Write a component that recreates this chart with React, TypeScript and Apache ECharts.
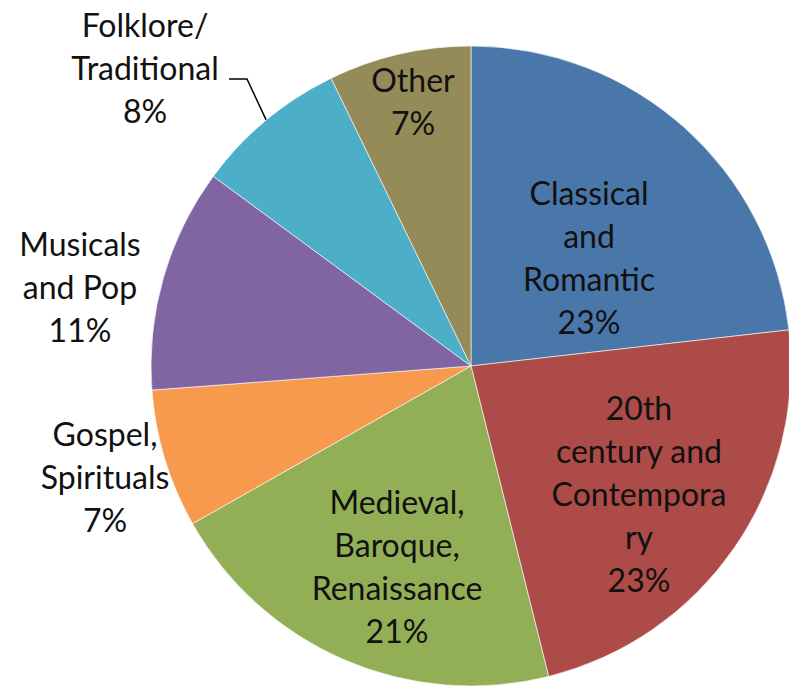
import React, { useEffect, useRef } from "react";
import * as echarts from "echarts";

const categories = [
  "Classical\nand\nRomantic",
  "20th\ncentury and\nContempora\nry",
  "Medieval,\nBaroque,\nRenaissance",
  "Gospel,\nSpirituals",
  "Musicals\nand Pop",
  "Folklore/\nTraditional",
  "Other",
];
const values = [23.2, 22.9, 20.7, 7.0, 11.3, 7.7, 7.2];
const colors = ["#4A77AA", "#AC4B47", "#93AF56", "#F79A4E", "#8165A3", "#4DAEC8", "#958B58"];
// label block centres (layout, px)
const labelPos: [number, number][] = [
  [589, 257],
  [639, 493],
  [397, 566],
  [105, 476],
  [80, 286],
  [145, 67],
  [413, 101],
];

export default function App() {
  const ref = useRef<HTMLDivElement>(null);
  useEffect(() => {
    document.body.style.margin = "0";
    const chart = echarts.init(ref.current!, null, { renderer: "svg" });
    chart.setOption({
      animation: false,
      backgroundColor: "#ffffff",
      series: [
        {
          type: "pie",
          center: [471, 366],
          radius: [0, 320],
          startAngle: 90,
          clockwise: true,
          avoidLabelOverlap: false,
          itemStyle: { borderColor: "#ffffff", borderWidth: 0.6 },
          label: {
            show: true,
            position: "inside",
            fontFamily: "Lato",
            fontSize: 32,
            lineHeight: 43,
            color: "#111111",
            align: "center",
            formatter: (p: any) => `${p.name}\n${Math.round(p.percent)}%`,
          },
          labelLine: { show: false },
          labelLayout: (params: any) => {
            const [x, y] = labelPos[params.dataIndex];
            const res: any = { x, y, align: "center", verticalAlign: "middle" };
            if (params.dataIndex === 5 && params.labelLinePoints) {
              const p0 = params.labelLinePoints[0];
              res.labelLinePoints = [p0, [247, 79], [229, 79]];
            }
            return res;
          },
          data: categories.map((name, i) => {
            const d: any = { name, value: values[i], itemStyle: { color: colors[i] } };
            if (i === 5) {
              d.label = { position: "outside" };
              d.labelLine = { show: true, length: 20, length2: 20, lineStyle: { color: "#000", width: 1.5 } };
            }
            return d;
          }),
        },
      ],
    });
    return () => chart.dispose();
  }, []);
  return <div ref={ref} style={{ width: 789, height: 692 }} />;
}
